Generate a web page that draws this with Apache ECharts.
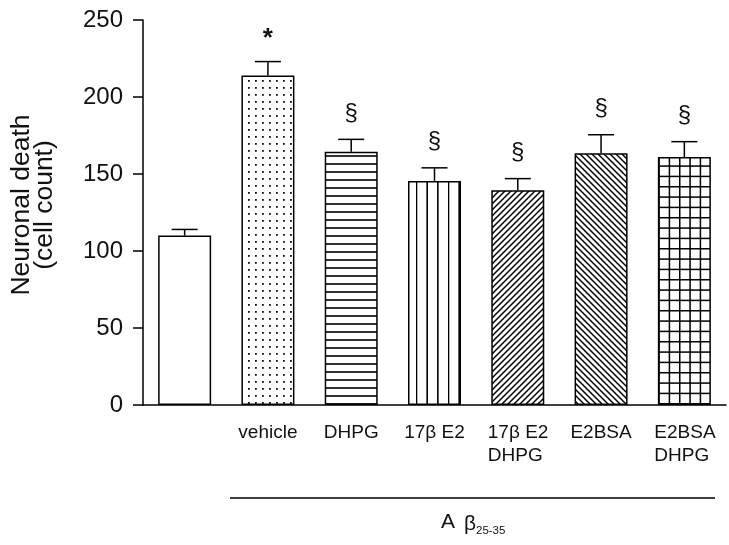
<!DOCTYPE html>
<html>
<head>
<meta charset="utf-8">
<script src="https://cdn.jsdelivr.net/npm/echarts@6/dist/echarts.min.js"></script>
<style>html,body{margin:0;padding:0;background:#fff}#c{width:729px;height:545px}</style>
</head>
<body>
<div id="c"></div>
<script>
// ---- data ----
var categories = ['', 'vehicle', 'DHPG', '17β E2', '17β E2\nDHPG', 'E2BSA', 'E2BSA\nDHPG'];
var means = [110, 214, 164.5, 145.5, 139.5, 163.5, 161];
var errors = [4, 9, 8, 8.5, 7.5, 12, 10];
var marks = ['', '*', '§', '§', '§', '§', '§'];
var yTicks = [0, 50, 100, 150, 200, 250];
var groupLabel = 'Aβ';
var groupSub = '25-35';
var yTitle = 'Neuronal death\n(cell count)';

// ---- fill patterns ----
function makePattern(w, h, draw, extra) {
  var c = document.createElement('canvas');
  c.width = w; c.height = h;
  var ctx = c.getContext('2d');
  ctx.fillStyle = '#fff'; ctx.fillRect(0, 0, w, h);
  ctx.fillStyle = '#000'; ctx.strokeStyle = '#000';
  draw(ctx, w, h);
  var p = {image: c, repeat: 'repeat'};
  if (extra) for (var k in extra) p[k] = extra[k];
  return p;
}
var patWhite = '#ffffff';
var patDots = makePattern(7, 7, function (ctx) { ctx.fillStyle = '#111'; ctx.fillRect(3, 3, 1.8, 1.8); });
var patHoriz = makePattern(8, 8, function (ctx, w) { ctx.fillRect(0, 3.2, w, 1.6); });
var patVert = makePattern(32, 8, function (ctx) {
  for (var k = 0; k < 3; k++) ctx.fillRect(k * 32 / 3 - 0.3, 0, 1.6, 8);
});
function diag(dir) {
  return makePattern(6, 6, function (ctx, p) {
    ctx.lineWidth = 1.5;
    ctx.beginPath();
    if (dir > 0) {
      ctx.moveTo(0, p); ctx.lineTo(p, 0);
      ctx.moveTo(-1, 1); ctx.lineTo(1, -1);
      ctx.moveTo(p - 1, p + 1); ctx.lineTo(p + 1, p - 1);
    } else {
      ctx.moveTo(0, 0); ctx.lineTo(p, p);
      ctx.moveTo(-1, p - 1); ctx.lineTo(1, p + 1);
      ctx.moveTo(p - 1, -1); ctx.lineTo(p + 1, 1);
    }
    ctx.stroke();
  });
}
var patFwd = diag(1);
var patBack = diag(-1);
var patGrid = makePattern(31, 31, function (ctx) {
  for (var k = 0; k < 3; k++) {
    ctx.fillRect(k * 31 / 3, 0, 1.5, 31);
    ctx.fillRect(0, k * 31 / 3, 31, 1.5);
  }
}, {x: -3});
var fills = [patWhite, patDots, patHoriz, patVert, patFwd, patBack, patGrid];

var chart = echarts.init(document.getElementById('c'), null, {renderer: 'canvas'});

var barData = means.map(function (v, i) {
  return {value: v, itemStyle: {color: fills[i]}};
});
var errData = means.map(function (v, i) { return [i, v, errors[i], marks[i]]; });

var font = '"Liberation Sans", Arial, sans-serif';

chart.setOption({
  animation: false,
  backgroundColor: '#fff',
  grid: {left: 143, right: 3, top: 20, bottom: 140},
  xAxis: {
    type: 'category',
    data: categories,
    axisLine: {lineStyle: {color: '#000', width: 1.5}},
    axisTick: {show: false},
    axisLabel: {
      color: '#111', fontSize: 19, fontFamily: font, margin: 16, interval: 0,
      lineHeight: 23,
      formatter: function (v) {
        if (v.indexOf('\n') < 0) return v;
        return v.split('\n').map(function (s) { return '{l|' + s + '}'; }).join('\n');
      },
      rich: {l: {width: 60, align: 'left', fontSize: 19, fontFamily: font, color: '#111', lineHeight: 23}}
    }
  },
  yAxis: {
    type: 'value',
    min: yTicks[0], max: yTicks[yTicks.length - 1], interval: yTicks[1] - yTicks[0],
    splitLine: {show: false},
    axisLine: {show: true, lineStyle: {color: '#000', width: 1.5}},
    axisTick: {show: true, length: 10, lineStyle: {color: '#000', width: 1.5}},
    axisLabel: {color: '#111', fontSize: 24, fontFamily: font, margin: 20}
  },
  series: [
    {
      type: 'bar',
      data: barData,
      barWidth: 53,
      itemStyle: {borderColor: '#000', borderWidth: 1.5},
      z: 2
    },
    {
      type: 'custom',
      data: errData,
      z: 3,
      renderItem: function (params, api) {
        var i = api.value(0), v = api.value(1), e = api.value(2);
        var base = api.coord([i, v]);
        var top = api.coord([i, v + e]);
        var mk = marks[params.dataIndex];
        var children = [
          {type: 'line', shape: {x1: base[0], y1: base[1], x2: top[0], y2: top[1]}, style: {stroke: '#000', lineWidth: 1.5}},
          {type: 'line', shape: {x1: top[0] - 13, y1: top[1], x2: top[0] + 13, y2: top[1]}, style: {stroke: '#000', lineWidth: 1.5}}
        ];
        if (mk) {
          var isStar = mk === '*';
          children.push({
            type: 'text',
            style: {
              text: mk, x: top[0], y: top[1] - (isStar ? 23 : 26),
              align: 'center', verticalAlign: 'middle',
              font: (isStar ? 'bold 26px ' : '24px ') + font, fill: '#111'
            }
          });
        }
        return {type: 'group', children: children};
      }
    }
  ],
  graphic: [
    {
      type: 'text', x: 33, y: 205, rotation: Math.PI / 2,
      style: {text: yTitle, font: '26.5px ' + font, fill: '#111', align: 'center', verticalAlign: 'middle', lineHeight: 23}
    },
    {
      type: 'line', shape: {x1: 230, y1: 498, x2: 715, y2: 498}, style: {stroke: '#000', lineWidth: 1.5}
    },
    {
      type: 'text', x: 441, y: 522,
      style: {text: groupLabel.charAt(0), font: '21px ' + font, fill: '#111', align: 'left', verticalAlign: 'middle'}
    },
    {
      type: 'text', x: 464, y: 524,
      style: {text: groupLabel.charAt(1), font: '21px ' + font, fill: '#111', align: 'left', verticalAlign: 'middle'}
    },
    {
      type: 'text', x: 476, y: 531,
      style: {text: groupSub, font: '11.5px ' + font, fill: '#111', align: 'left', verticalAlign: 'middle'}
    }
  ]
});
</script>
</body>
</html>
